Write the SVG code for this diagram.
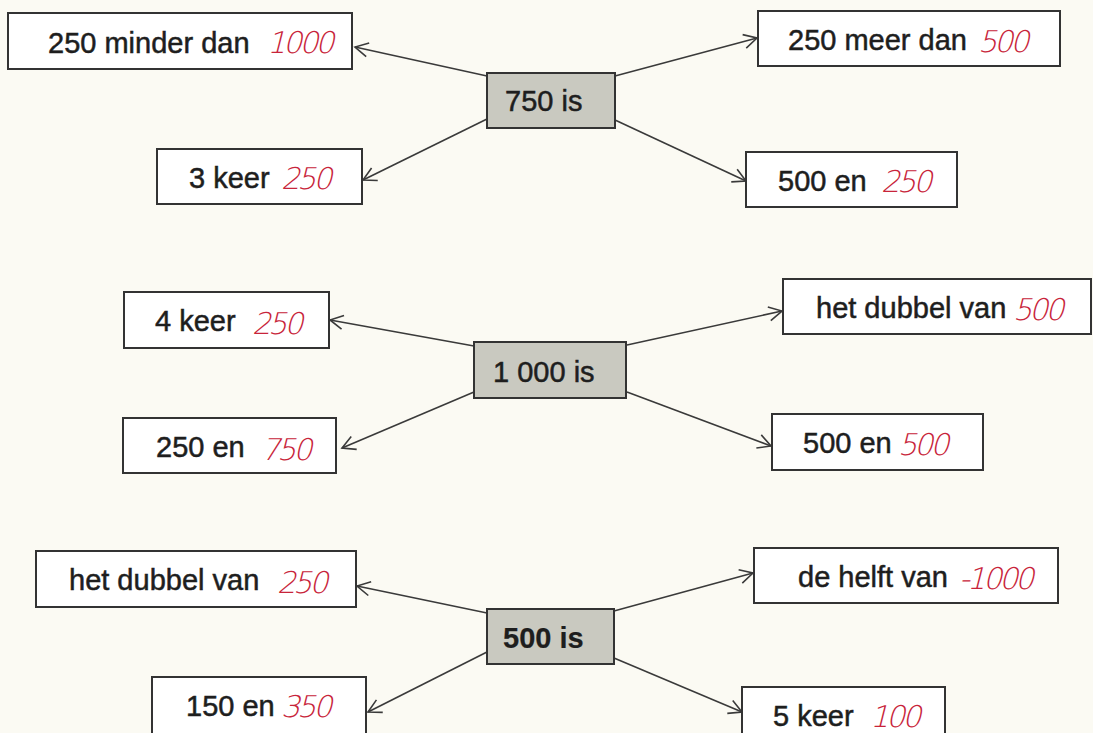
<svg xmlns="http://www.w3.org/2000/svg" width="1093" height="733" viewBox="0 0 1093 733">
<style>
.bg{fill:#fbfaf3}
.box{fill:#ffffff;stroke:#333;stroke-width:2}
.ctr{fill:#c9c9c0;stroke:#333;stroke-width:2}
.t{font-family:"Liberation Sans",Arial,sans-serif;font-size:29px;fill:#1e1e1e;stroke:#1e1e1e;stroke-width:0.5}
.tb{font-weight:bold;stroke-width:0.2}
.r{font-family:"DejaVu Sans ExtraLight","DejaVu Sans Light","DejaVu Sans",sans-serif;font-weight:200;font-style:italic;font-size:30px;fill:#c8243a;letter-spacing:-3px}
.ln{stroke:#3a3a3a;stroke-width:1.6;fill:none;marker-end:url(#ar)}
</style>
<defs>
<marker id="ar" markerUnits="userSpaceOnUse" markerWidth="20" markerHeight="20" refX="16" refY="10" orient="auto">
<path d="M3,3 L16,10 L3,17" fill="none" stroke="#3a3a3a" stroke-width="1.6"/>
</marker>
</defs>
<rect class="bg" x="0" y="0" width="1093" height="733"/>

<g id="connectors">
<line class="ln" x1="487" y1="76" x2="355" y2="47"/>
<line class="ln" x1="615" y1="76" x2="757" y2="38"/>
<line class="ln" x1="487" y1="119" x2="363" y2="180"/>
<line class="ln" x1="615" y1="120" x2="746" y2="181"/>
<line class="ln" x1="474" y1="346" x2="330" y2="320"/>
<line class="ln" x1="474" y1="392" x2="342" y2="448"/>
<line class="ln" x1="627" y1="345" x2="782" y2="311"/>
<line class="ln" x1="627" y1="392" x2="771" y2="446"/>
<line class="ln" x1="487" y1="613" x2="357" y2="586"/>
<line class="ln" x1="487" y1="652" x2="368" y2="712"/>
<line class="ln" x1="614" y1="611" x2="753" y2="573"/>
<line class="ln" x1="614" y1="658" x2="742" y2="712"/>
</g>

<g id="n750">
<rect class="ctr" x="487" y="73" width="128" height="55"/>
<text class="t" x="505" y="111">750 is</text>
</g>
<g id="nA">
<rect class="box" x="8" y="13" width="344" height="56"/>
<text class="t" x="48" y="53">250 minder dan</text>
<text class="r" x="267" y="53">1000</text>
</g>
<g id="nB">
<rect class="box" x="758" y="11" width="302" height="55"/>
<text class="t" x="788" y="50">250 meer dan</text>
<text class="r" x="978" y="52">500</text>
</g>
<g id="nC">
<rect class="box" x="157" y="149" width="205" height="55"/>
<text class="t" x="189" y="188">3 keer</text>
<text class="r" x="281" y="189">250</text>
</g>
<g id="nD">
<rect class="box" x="746" y="152" width="211" height="55"/>
<text class="t" x="778" y="191">500 en</text>
<text class="r" x="881" y="192">250</text>
</g>

<g id="n1000">
<rect class="ctr" x="474" y="342" width="152" height="56"/>
<text class="t" x="493" y="382">1 000 is</text>
</g>
<g id="nE">
<rect class="box" x="124" y="292" width="205" height="56"/>
<text class="t" x="155" y="331">4 keer</text>
<text class="r" x="252" y="334">250</text>
</g>
<g id="nF">
<rect class="box" x="123" y="418" width="213" height="55"/>
<text class="t" x="156" y="457">250 en</text>
<text class="r" x="261" y="460">750</text>
</g>
<g id="nG">
<rect class="box" x="783" y="279" width="308" height="55"/>
<text class="t" x="816" y="318">het dubbel van</text>
<text class="r" x="1013" y="320">500</text>
</g>
<g id="nH">
<rect class="box" x="772" y="414" width="211" height="56"/>
<text class="t" x="803" y="453">500 en</text>
<text class="r" x="898" y="455">500</text>
</g>

<g id="n500">
<rect class="ctr" x="487" y="609" width="127" height="55"/>
<text class="t tb" x="503" y="648">500 is</text>
</g>
<g id="nI">
<rect class="box" x="36" y="551" width="320" height="56"/>
<text class="t" x="69" y="590">het dubbel van</text>
<text class="r" x="277" y="593">250</text>
</g>
<g id="nJ">
<rect class="box" x="152" y="677" width="214" height="60"/>
<text class="t" x="186" y="716">150 en</text>
<text class="r" x="281" y="717">350</text>
</g>
<g id="nK">
<rect class="box" x="754" y="548" width="304" height="55"/>
<text class="t" x="798" y="587">de helft van</text>
<text class="r" x="959" y="589">-1000</text>
</g>
<g id="nL">
<rect class="box" x="742" y="687" width="203" height="50"/>
<text class="t" x="773" y="726">5 keer</text>
<text class="r" x="870" y="727">100</text>
</g>
</svg>
